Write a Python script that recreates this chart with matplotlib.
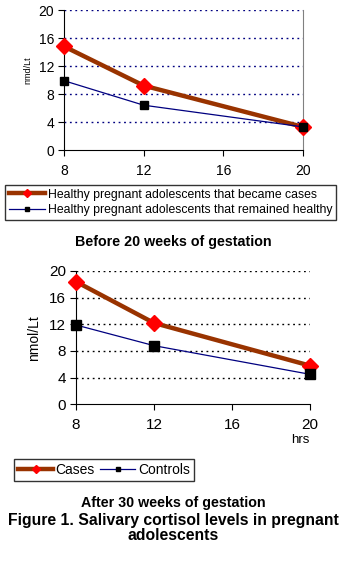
import matplotlib.pyplot as plt
import matplotlib

matplotlib.rcParams['font.family'] = ['Liberation Sans', 'DejaVu Sans']

weeks = [8, 12, 20]
# before 20 weeks of gestation
before_cases = [14.8, 9.2, 3.3]
before_healthy = [9.9, 6.4, 3.3]
# after 30 weeks of gestation
after_cases = [18.4, 12.2, 5.8]
after_controls = [11.9, 8.8, 4.5]

x_ticks = [8, 12, 16, 20]
y_ticks = [0, 4, 8, 12, 16, 20]

brown = '#993300'
red = '#ff0000'
navy = '#000080'

W, H = 345, 561
fig = plt.figure(figsize=(W / 100, H / 100), dpi=100, facecolor='white')


def px_axes(left, top, right, bottom):
    return fig.add_axes([left / W, 1 - bottom / H, (right - left) / W, (bottom - top) / H])


def style_axes(ax, grid_color, fs):
    ax.set_xlim(8, 20)
    ax.set_ylim(0, 20)
    ax.set_xticks(x_ticks)
    ax.set_yticks(y_ticks)
    ax.tick_params(labelsize=fs, length=4, width=0.8, colors='black', pad=3)
    for y in y_ticks[1:]:
        ax.axhline(y, color=grid_color, linestyle=(0, (1.3, 2.6)), linewidth=1, zorder=1)
    ax.spines['top'].set_visible(False)
    ax.spines['left'].set_color('black')
    ax.spines['bottom'].set_color('black')


# --- top chart ---
ax1 = px_axes(64, 10, 303, 150)
style_axes(ax1, navy, 10)
ax1.spines['right'].set_color('#808080')
l1, = ax1.plot(weeks, before_cases, color=brown, linewidth=3.2, marker='D',
               markersize=8, markerfacecolor=red, markeredgecolor=red, zorder=3, clip_on=False)
l2, = ax1.plot(weeks, before_healthy, color=navy, linewidth=0.9, marker='s',
               markersize=6, markerfacecolor='black', markeredgecolor='black', zorder=4, clip_on=False)
ax1.set_ylabel('nmd/Lt', fontsize=6.5, labelpad=4)
ax1.yaxis.set_label_coords(-32 / 239, 0.57)
ax1.tick_params(axis='x', pad=6)

leg1 = fig.legend([l1, l2],
                  ['Healthy pregnant adolescents that became cases',
                   'Healthy pregnant adolescents that remained healthy'],
                  loc='center', bbox_to_anchor=(170.5 / W, 1 - 202.5 / H),
                  fontsize=8.8, frameon=True, fancybox=False, handlelength=3.0,
                  handletextpad=0.2, borderpad=0.3, labelspacing=0.3, markerscale=0.5,
                  borderaxespad=0)
leg1.get_frame().set_edgecolor('black')
leg1.get_frame().set_linewidth(1)

fig.text(173 / W, 1 - 242 / H, 'Before 20 weeks of gestation', ha='center', va='center',
         fontsize=10.3, fontweight='bold')

# --- bottom chart ---
ax2 = px_axes(76, 271, 310, 404.3)
style_axes(ax2, 'black', 11)
ax2.spines['right'].set_visible(False)
m1, = ax2.plot(weeks, after_cases, color=brown, linewidth=3.2, marker='D',
               markersize=8, markerfacecolor=red, markeredgecolor=red, zorder=3, clip_on=False)
m2, = ax2.plot(weeks, after_controls, color=navy, linewidth=0.9, marker='s',
               markersize=6.5, markerfacecolor='black', markeredgecolor='black', zorder=4, clip_on=False)
ax2.set_ylabel('nmol/Lt', fontsize=10, labelpad=6)
ax2.tick_params(axis='x', pad=6)
fig.text(300 / W, 1 - 440 / H, 'hrs', ha='center', va='center', fontsize=9.5)

leg2 = fig.legend([m1, m2], ['Cases', 'Controls'], loc='center', ncol=2,
                  bbox_to_anchor=(104 / W, 1 - 470 / H), fontsize=10, frameon=True,
                  fancybox=False, handlelength=2.5, handletextpad=0.2, columnspacing=0.4,
                  borderpad=0.3, markerscale=0.55, borderaxespad=0)
leg2.get_frame().set_edgecolor('black')
leg2.get_frame().set_linewidth(1)

fig.text(173 / W, 1 - 502.5 / H, 'After 30 weeks of gestation', ha='center', va='center',
         fontsize=10.3, fontweight='bold')
fig.text(173 / W, 1 - 520 / H, 'Figure 1. Salivary cortisol levels in pregnant',
         ha='center', va='center', fontsize=11.3, fontweight='bold')
fig.text(173 / W, 1 - 536 / H, 'adolescents', ha='center', va='center',
         fontsize=11.3, fontweight='bold')

plt.savefig('out.png', dpi=100, facecolor='white')
